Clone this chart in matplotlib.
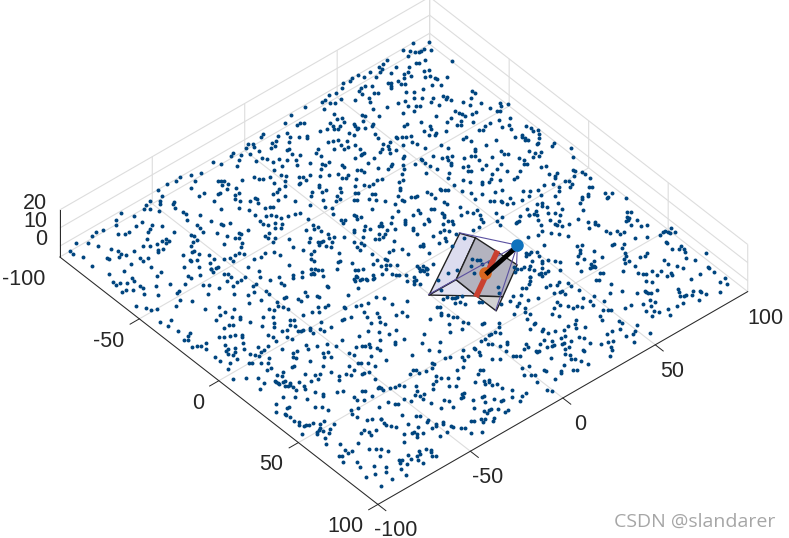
import matplotlib
matplotlib.use('Agg')
import numpy as np
import matplotlib.pyplot as plt
from matplotlib.ticker import NullFormatter
from mpl_toolkits.mplot3d.art3d import Poly3DCollection

plt.rcParams['font.family'] = ['Liberation Sans', 'DejaVu Sans']
plt.rcParams['axes.unicode_minus'] = False

x_ticks = [-100, -50, 0, 50, 100]
y_ticks = [-100, -50, 0, 50, 100]
z_ticks = [0, 10, 20]

# feature points on z=0, one list per region
pts_left = [(-98,8),(-97,6),(-93,12),(-91,7),(-89,5),(-84,10),(-96,1),(-97,-1),(-96,-3),(-94,0),(-91,0),(-92,-4),(-94,-7),(-97,-9),(-96,-11),(-92,-10),(-90,-13),(-98,-19),(-95,-17),
(-87,-5),(-87,-2),(-85,-1),(-82,0),(-82,3),(-79,5),(-78,1),(-78,-3),(-96,-27),(-98,-31),(-100,-35),(-99,-38),(-100,-42),(-94,-32),(-100,-47),(-92,-36),(-86,-34),(-86,-37),(-96,-48),(-97,-54),(-96,-57),(-95,-59),(-93,-57),(-94,-51),(-93,-52),(-90,-47),(-89,-48),(-87,-49),(-90,-55),
(-88,-25),(-87,-24),(-86,-23),(-85,-25),(-84,-23),(-82,-17),(-80,-12),(-78,-11),(-77,-10),(-76,-7),(-72,-8),(-74,-3),(-72,-2),(-70,-4),(-68,-6),(-68,-9),(-67,-11),(-67,-13),(-63,-10),(-63,-14),(-80,-22),(-82,-25),(-82,-29),(-82,-30),(-77,-23),(-77,-25),(-75,-27),(-73,-26),(-80,-34),(-70,-23),(-70,-20),(-69,-20),(-67,-21),(-74,-35),(-70,-29),(-66,-27),(-63,-21),(-62,-19),(-61,-18),(-59,-24),(-58,-22),(-56,-21),(-54,-20),(-53,-17),(-62,-27),(-58,-28),(-56,-28),(-54,-27),(-53,-24),(-51,-26),(-51,-22),(-49,-24),(-50,-32),(-50,-30),(-48,-32),(-46,-30),(-45,-32),(-42,-26),
(-57,-35),(-58,-39),(-57,-39),(-57,-42),(-56,-41),(-53,-42),(-51,-44),(-60,-44),(-57,-48),(-64,-46),(-67,-41),(-66,-41),(-65,-38),(-71,-43),(-73,-49),(-71,-49),(-68,-50),(-77,-44),(-83,-48),(-81,-48),(-78,-50),(-70,-55),(-69,-54),(-66,-55),(-66,-57),(-65,-59),(-62,-61),(-63,-65),(-62,-60),(-59,-60),(-56,-57),(-53,-57),(-50,-54),(-49,-52),(-47,-52),(-49,-49),(-49,-47),(-47,-46),(-42,-45),(-41,-42),(-42,-39),(-40,-36),(-37,-35),(-30,-36),(-58,-65),(-59,-65),(-57,-63),(-53,-65),(-57,-70),(-52,-60),(-49,-62),(-48,-60),(-48,-59),(-40,-50),(-35,-48),(-32,-50),(-36,-55),(-52,-72),(-50,-72),(-49,-68),(-49,-62),(-47,-63),(-43,-60),(-42,-59),(-40,-59),(-39,-62),(-36,-59),(-49,-76),(-44,-71),(-42,-69),(-38,-67),(-35,-62),(-36,-57),(-30,-56),(-30,-54),(-28,-48),(-27,-44),(-24,-46),(-22,-46),(-27,-58),(-24,-54),(-22,-54),(-47,-81),(-47,-82),(-38,-73),(-31,-65),(-27,-61),(-16,-50),
(-99,-68),(-97,-72),(-95,-74),(-94,-65),(-89,-65),(-89,-68),(-88,-73),(-88,-75),(-90,-77),(-96,-80),(-97,-83),(-96,-86),(-97,-94),(-94,-90),(-90,-88),(-95,-99),(-93,-99),(-89,-97),(-82,-98),(-85,-85),(-82,-84),(-80,-84),(-78,-83),(-78,-79),(-78,-74),(-76,-72),(-75,-69),(-75,-66),(-73,-66),(-75,-64),(-73,-64),(-76,-59),(-82,-60),(-85,-63),(-84,-65),(-83,-67),(-80,-70),(-71,-72),(-72,-71),(-71,-69),(-82,-90),(-81,-90),(-79,-86),(-73,-85),(-73,-80),(-71,-80),(-71,-77),(-66,-80),(-74,-96),(-71,-90),(-66,-90),(-64,-91),(-60,-82),(-61,-79),(-69,-98),(-67,-96),(-67,-98),(-65,-94),(-62,-97),(-62,-99),(-60,-95),(-60,-91),(-58,-91),(-55,-93),(-56,-86),(-51,-89),(-53,-81)]

pts_top = [(-100,91),(-96,96),(-99,85),(-97,87),(-95,88),(-94,89),(-94,90),(-94,92),(-92,94),(-95,84),(-81,96),(-90,84),(-89,85),(-89,88),(-99,76),(-98,73),(-98,71),(-96,71),(-93,76),(-95,69),(-98,66),(-94,66),(-92,72),(-90,80),(-88,78),(-88,76),(-85,77),(-86,74),(-84,83),(-83,85),(-81,81),(-80,83),(-78,84),(-77,84),(-75,88),(-100,61),(-97,62),(-100,58),(-99,56),(-100,53),(-98,51),(-97,47),(-93,59),(-91,61),(-93,57),(-92,55),(-90,55),(-89,50),(-93,46),(-93,43),(-98,44),(-97,41),(-97,39),(-94,41),(-93,37),(-99,32),(-99,24),(-97,19),(-93,22),(-93,24),(-92,25),(-84,27),(-83,30),(-85,33),(-83,33),(-88,38),(-85,37),(-84,39),(-82,38),(-81,32),(-81,35),(-80,33),(-75,35),(-78,40),(-77,40),(-75,39),(-80,46),(-79,47),(-77,44),(-75,40),(-73,42),(-73,36),(-73,46),(-72,45),(-68,43),(-65,42),(-77,57),(-80,52),(-75,51),(-86,55),(-84,54),(-87,59),(-86,60),(-88,67),(-87,68),(-86,67),(-85,66),(-86,71),(-84,71),(-83,72),(-77,72),(-79,69),(-76,76),(-75,80),(-73,83),(-74,69),(-72,72),(-75,65),(-76,62),(-72,64),(-68,64),(-70,67),(-69,68),(-69,75),(-68,73),(-67,79),(-66,80),(-65,79),(-63,80),(-64,74),(-57,77),(-55,77),(-60,69),(-55,73),(-54,70),(-50,72),(-57,63),(-61,62),(-70,60),(-64,57),(-64,55),(-55,62),(-52,62),(-51,61),(-50,66),(-53,59),(-56,59),(-57,53),(-59,50),(-58,51),(-61,48),(-60,48),(-54,51),(-52,52),(-48,53),(-55,47),(-55,43),(-60,44),(-59,42),(-61,41),(-59,39),(-58,37),(-57,41),(-55,40),(-50,43),(-45,59),(-42,60),(-38,56),(-37,58),(-42,52),(-39,54),(-36,55),(-33,54),(-34,55),(-44,47),(-43,47),(-41,47),(-38,47),(-35,48),(-36,43),(-30,50),(-28,48),(-49,42),(-46,39),(-44,38),(-43,43),(-49,36),(-49,35),(-48,33),(-51,30),(-56,29),(-57,33),(-62,27),(-62,31),(-62,32),(-62,30),(-68,32),(-65,32),(-72,31),(-69,29),(-69,27),(-72,28),(-75,29),(-72,24),(-76,27),(-77,25),(-76,19),(-75,17),(-85,21),(-84,20),(-87,18),(-89,15),(-87,13),(-84,9),(-91,9),(-89,7),(-92,16),(-81,9),(-78,11),(-77,8),(-74,6),(-72,11),(-72,17),(-68,14),(-66,12),(-67,15),(-67,17),(-62,20),(-61,20),(-56,18),(-56,23),(-55,24),(-53,24),(-63,9),(-61,12),(-59,15),(-55,16),(-56,15),(-52,19),(-66,6),(-68,2),(-67,3),(-65,3),(-65,0),(-65,-1),(-58,-9),(-56,-2),(-58,0),(-59,5),(-58,4),(-55,5),(-55,3),(-52,-6),(-51,0),(-49,6),(-52,10),(-50,9),(-47,4),(-47,6),(-43,10),(-42,11),(-39,15),(-37,17),(-34,19),(-30,21),(-46,13),(-45,14),(-49,16),(-47,19),(-45,20),(-45,22),(-46,25),(-45,27),(-42,35),(-39,33),(-39,31),(-36,29),(-35,28),(-33,25),(-30,25),(-29,25),(-29,29),(-28,30),(-28,31),(-27,36),(-25,36),(-25,41),(-24,41),(-23,42),(-22,43),(-23,47),(-22,36),(-18,37),(-16,37),(-41,18),(-40,19)]

pts_right = [(-62,90),(-60,90),(-59,83),(-59,87),(-56,84),(-54,88),(-54,78),(-52,78),(-51,83),(-51,81),(-49,94),(-46,96),(-47,93),(-46,90),(-45,91),(-49,89),(-41,87),(-39,91),(-36,88),(-37,85),(-42,83),(-42,80),(-41,78),(-42,77),(-47,78),(-51,75),(-49,73),(-34,87),(-31,93),(-29,94),(-27,93),(-26,95),(-24,94),(-28,88),(-22,92),(-16,95),(-15,93),(-9,98),(-4,95),(-29,85),(-27,87),(-26,88),(-25,87),(-24,88),(-20,90),(-20,89),(-33,78),(-42,70),(-42,68),(-39,70),(-33,73),(-34,68),(-33,67),(-26,75),(-24,75),(-23,76),(-19,84),(-16,85),(-15,87),(-14,85),(-32,64),(-31,65),(-26,70),(-28,65),(-33,61),(-18,78),(-16,79),(-15,83),(-13,78),(-14,77),(-20,70),(-24,65),(-29,57),(-28,59),(-26,57),(-25,58),(-23,62),(-19,67),(-15,69),(-12,73),(-8,81),(-7,83),(-3,81),(-1,84),(0,82),(1,81),(2,90),(3,90),(5,92),(7,92),(5,88),(10,92),(-23,52),(-20,53),(-17,57),(-16,56),(-18,63),(-13,63),(-16,61),(-10,70),(-10,68),(1,75),(3,78),(5,83),(6,84),(9,82),(8,84),(6,79),(8,77),(15,89),(14,88),(17,85),(17,82),(18,84),(18,81),(19,79),(21,91),(24,89),(24,90),(23,93),(29,95),(23,77),(-18,47),(-15,49),(-11,52),(-11,48),(-15,59),(-8,60),(-9,57),(-6,52),(-5,53),(-3,55),(-2,59),(-2,66),(0,68),(2,66),(2,71),(9,67),(10,66),(12,67),(9,74),(13,72),(5,70),(2,62),(1,58),(0,56),(-2,55),(1,49),(5,49),(5,46),(8,45),(8,65),(8,60),(11,58),(11,62),(13,61),(12,60),(9,55),(11,53),(11,51),(15,65),(17,71),(19,68),(22,65),(17,67),(26,72),(30,74),(33,72),(32,76),(33,75),(34,76),(39,76),(41,76),(36,90),(37,91),(38,88),(39,88),(40,87),(40,86),(42,90),(43,86),(46,89),(47,91),(44,81),(42,79),(44,79),(50,82),(53,86),(55,91),(55,93),(55,94),(55,97),(56,95),(57,95),(58,97),(60,90),(61,90),(65,89),(66,93),(67,91),(70,92),(73,90),(76,98),(76,92),(83,93),(84,93),(68,93),(77,85),(74,84),(87,93),(93,91),(93,94),(96,92),(98,87),(84,88),(84,83),(92,81),(93,81),(95,82),(90,79),(92,77),(90,74),(68,82),(71,82),(72,77),(73,74),(70,74),(70,71),(69,70),(73,68),(75,70),(76,77),(76,79),(77,79),(80,68),(80,65),(77,64),(79,64),(96,77),(85,75),(67,69),(60,80),(61,78),(60,76),(56,72),(57,70),(59,69),(59,71),(63,71),(54,73),(51,74),(50,76),(47,73),(47,72),(45,64),(50,64),(50,60),(50,58),(39,63),(38,61),(41,60),(42,59),(43,57),(46,58),(52,57),(52,58),(53,58),(57,57),(58,58),(51,52),(62,65),(71,57),(65,56),(69,52),(60,54),(59,53),(46,54),(52,56),(41,49),(45,46),(39,48),(37,46),(36,44),(37,43),(25,58),(28,60),(25,64),(26,67),(23,63),(22,63),(19,58),(22,56),(19,63),(23,53),(31,62),(29,51),(30,46),(28,42),(29,43),(33,45),(39,41),(42,42),(42,40),(41,39),(43,38),(41,38),(49,37),(49,35),(50,41),(51,39),(55,38),(53,43),(55,43),(59,44),(64,42),(66,46),(55,37),(40,34),(42,32),(43,31),(43,27),(44,28),(36,37),(29,41),(34,34),(33,33),(33,41)]

pts_lower_right = [(46,24),(52,28),(54,35),(57,38),(50,24),(49,20),(53,14),(55,18),(57,19),(59,16),(64,13),(63,16),(63,17),(68,16),(68,17),(71,17),(72,20),(59,32),(61,32),(61,29),(63,26),(66,27),(64,34),(66,35),(66,37),(68,38),(67,43),(70,42),(71,47),(75,43),(76,45),(77,46),(77,40),(79,39),(72,31),(74,29),(73,26),(74,23),(77,21),(76,28),(78,31),(87,26),(83,26),(81,25),(80,18),(81,21),(83,18),(77,19),(80,17),(76,15),(78,13),(78,14),(73,13),(74,10),(70,6),(72,5),(72,3),(76,6),(77,6),(77,11),(88,21),(89,21),(90,29),(91,32),(92,34),(94,31),(98,27),(96,30),(88,41),(84,44),(86,44),(87,38),(87,35),(91,48),(93,45),(94,43),(98,40),(93,40),(98,49),(80,51),(80,54),(83,58),(87,56),(86,60),(89,59),(85,63),(83,62),(91,60),(91,56),(95,62),(93,68),(87,74),(89,73),(90,75),(93,71),(78,64),(76,61),(92,64),(83,16),(85,14),(87,15),(89,14),(90,15),(93,16),(96,17),(90,9),(92,6),(93,5),(95,10),(96,11),(83,8),(94,1),(77,7),(87,1),(88,1),(81,-2),(80,-5),(84,-7),(86,-5),(87,-4),(91,-6),(93,-14),(93,-16),(91,-20),(95,-19),(88,-17),(97,-6),(99,-5),(72,-3),(73,-2),(74,-1),(64,1),(65,0),(68,-3),(64,-3),(61,-5),(60,-6),(57,-5),(57,-7),(56,-1),(56,-2),(56,1),(58,2),(53,6),(55,4),(49,1),(49,0),(45,-4),(43,-5),(46,-8),(40,-10),(39,-5),(38,-6),(36,-7),(34,-9),(33,-8),(29,-7),(30,-6),(32,0),(30,2),(33,2),(35,3),(38,8),(39,9),(45,14),(46,18),(44,21),(23,-30),(21,-31),(18,-29),(22,-23),(22,-20),(25,-20),(18,-14),(16,-20),(11,-20),(8,-22),(33,-14),(44,-13),(38,-22),(42,-26),(29,-29),(29,-33),(35,-30),(34,-34),(35,-35),(29,-38),(25,-35),(34,-42),(45,-34),(40,-44),(40,-50),(46,-20),(47,-27),(50,-24),(56,-23),(55,-25),(56,-16),(58,-12),(59,-12),(61,-12),(63,-13),(60,-17),(59,-19),(61,-20),(68,-11),(70,-8),(54,-31),(55,-31),(56,-33),(56,-36),(53,-39),(52,-40),(53,-42),(55,-39),(61,-35),(63,-37),(63,-34),(65,-32),(68,-29),(64,-26),(64,-23),(70,-19),(71,-21),(71,-18),(74,-25),(76,-22),(77,-20),(78,-21),(78,-23),(80,-21),(84,-19),(81,-19),(71,-33),(76,-33),(76,-34),(78,-35),(69,-35),(64,-39),(66,-41),(60,-45),(57,-49),(55,-50),(54,-54),(55,-52),(53,-57),(51,-57),(63,-47),(64,-49),(66,-46),(66,-48),(68,-48),(76,-41),(74,-42),(78,-36),(82,-33),(83,-29),(83,-28),(90,-24),(90,-25),(87,-26),(86,-36),(86,-30),(91,-31),(91,-32),(93,-29),(96,-26),(96,-28),(90,-34),(96,-34),(97,-35),(92,-34),(94,-37),(93,-38),(91,-42),(92,-41),(95,-39),(92,-48),(93,-47),(97,-47),(99,-43),(80,-42),(77,-46),(72,-47),(63,-54),(66,-53),(63,-59),(64,-58),(60,-60),(70,-61),(74,-57),(75,-56),(79,-55),(80,-56),(84,-51),(83,-54),(84,-55),(85,-52),(88,-50),(89,-50),(84,-57),(80,-61),(81,-65),(81,-64),(84,-62),(83,-64),(84,-65),(90,-58),(90,-54),(66,-69),(69,-70),(72,-69),(70,-70),(74,-68),(76,-63),(79,-68),(70,-75),(83,-71),(91,-70),(93,-71),(92,-67),(94,-66),(95,-67),(97,-68),(98,-67),(90,-75),(93,-76),(93,-73),(98,-74),(95,-74),(94,-79),(91,-79),(90,-80),(92,-81),(95,-83),(99,-84),(97,-90),(92,-89),(97,-96),(83,-84),(79,-83),(83,-80)]

pts_lower_left = [(-52,-100),(-48,-98),(-46,-97),(-45,-95),(-38,-99),(-36,-95),(-34,-98),(-29,-97),(-43,-84),(-41,-88),(-39,-81),(-32,-80),(-29,-75),(-25,-78),(-24,-81),(-25,-75),(-21,-75),(-24,-71),(-19,-72),(-18,-73),(-18,-82),(-18,-79),(-17,-78),(-14,-71),(-23,-64),(-21,-59),(-16,-51),(-12,-47),(-10,-47),(-13,-42),(-11,-43),(-8,-40),(-7,-40),(-10,-33),(-3,-44),(-1,-42),(-1,-40),(0,-30),(-4,-20),(-1,-16),(4,-36),(5,-36),(8,-30),(9,-27),(7,-32),(11,-38),(12,-32),(16,-28),(15,-33),(10,-41),(10,-42),(10,-48),(5,-49),(0,-46),(-3,-52),(-2,-48),(-16,-55),(-14,-56),(-13,-59),(-15,-60),(-12,-55),(-10,-54),(-10,-62),(-13,-65),(-9,-69),(-7,-64),(-5,-66),(-3,-57),(-4,-58),(-2,-60),(0,-59),(-1,-65),(0,-63),(3,-60),(4,-59),(4,-58),(5,-55),(6,-56),(8,-56),(8,-52),(10,-52),(3,-66),(5,-65),(-1,-70),(2,-71),(-3,-71),(-10,-79),(-9,-80),(-6,-82),(-3,-84),(-13,-83),(-12,-81),(-14,-85),(-10,-88),(-15,-87),(-16,-93),(-23,-99),(-24,-96),(-25,-94),(-22,-98),(-18,-99),(-17,-97),(-16,-96),(-13,-96),(-7,-96),(-4,-96),(-7,-90),(-7,-89),(-5,-91),(-6,-86),(-4,-88),(-3,-90),(0,-90),(0,-94),(2,-97),(8,-99),(11,-95),(14,-91),(5,-88),(6,-87),(3,-83),(4,-82),(0,-79),(1,-84),(3,-80),(3,-78),(2,-75),(7,-72),(14,-72),(12,-70),(12,-68),(15,-71),(14,-64),(12,-63),(20,-68),(15,-60),(22,-62),(20,-61),(17,-56),(21,-59),(24,-60),(20,-54),(19,-50),(27,-53),(29,-52),(26,-48),(27,-46),(28,-43),(28,-45),(30,-44),(32,-42),(22,-43),(22,-38),(19,-34),(35,-53),(34,-47),(37,-51),(34,-54),(26,-66),(28,-72),(29,-70),(31,-73),(31,-66),(37,-67),(35,-65),(36,-62),(38,-61),(40,-57),(33,-58),(36,-58),(40,-56),(41,-54),(46,-55),(42,-72),(43,-70),(49,-69),(48,-64),(49,-63),(51,-69),(53,-67),(53,-63),(51,-58),(52,-57),(55,-72),(59,-76),(54,-75),(56,-76),(63,-74),(64,-72),(66,-69),(60,-65),(69,-78),(71,-79),(67,-81),(67,-79),(52,-88),(52,-90),(55,-94),(56,-92),(57,-89),(56,-86),(59,-91),(60,-94),(71,-86),(67,-92),(73,-91),(71,-93),(73,-93),(73,-96),(72,-97),(76,-98),(80,-94),(83,-95),(77,-85),(80,-81),(86,-90),(89,-97),(90,-93),(90,-87),(63,-96),(55,-93),(56,-95),(52,-100),(54,-92),(49,-96),(50,-94),(50,-92),(47,-97),(46,-96),(44,-97),(49,-95),(41,-97),(38,-97),(39,-97),(36,-93),(36,-94),(35,-99),(31,-96),(30,-91),(33,-87),(36,-79),(39,-77),(40,-78),(37,-84),(45,-83),(43,-85),(48,-82),(20,-95),(18,-91),(20,-87),(21,-87),(22,-87),(23,-87),(18,-84),(20,-83),(23,-85),(26,-85),(30,-84),(32,-81),(25,-86),(25,-83),(28,-84),(27,-80),(30,-80),(30,-76),(26,-84),(23,-84),(18,-81),(18,-75),(18,-76),(25,-75),(10,-82),(13,-85),(8,-84),(13,-83),(8,-80)]

pts_center = [(-51,-12),(-52,-14),(-47,-2),(-45,0),(-42,-2),(-37,-2),(-35,-3),(-36,-1),(-36,4),(-35,4),(-33,3),(-33,5),(-29,-2),(-28,-3),(-28,3),(-26,1),(-25,3),(-23,-2),(-34,12),(-25,9),(-23,8),(-20,8),(-25,15),(-26,19),(-22,12),(-18,11),(-18,2),(-19,1),(-20,4),(-18,4),(-23,-7),(-21,-5),(-20,-8),(-18,-8),(-19,-5),(-28,-8),(-31,-11),(-34,-12),(-32,-13),(-29,-14),(-27,-16),(-32,-16),(-32,-17),(-33,-18),(-31,-19),(-29,-17),(-37,-19),(-35,-21),(-37,-28),(-33,-26),(-29,-25),(-30,-23),(-27,-27),(-22,-16),(-18,-19),(-18,-20),(-15,-23),(-14,-16),(-9,-7),(-7,-4),(-9,0),(-9,2),(-7,5),(-3,5),(-5,-8),(-3,-5),(-4,-6),(-6,-4),(-13,-6),(-8,-10),(-10,-18),(-7,-20),(-9,-17),(-8,-15),(-6,-20),(-3,-18),(-6,-22),(-5,-22),(-3,-14),(-1,-11),(-2,-8),(2,-8),(3,-7),(4,-6),(-1,-3),(9,-6),(12,-5),(5,3),(6,3),(8,2),(-21,-30),(-20,-29),(-19,-28),(-19,-32),(-16,-30),(-22,-31),(-20,-33),(-23,-35),(-21,-37),(-24,-39),(-23,-40),(-9,-33),
(-18,30),(-17,31),(-14,25),(-5,20),(0,19),(-1,23),(-5,24),(1,22),(-7,32),(-8,28),(-5,26),(-5,31),(-3,13),(2,12),(9,5),(6,5),(16,23),
(5,22),(18,24),(19,25),(19,20),(23,18),(21,24),(22,27),(17,14),(17,4),(16,10),(27,-2),(27,0),(29,1),(30,3),(31,5),(22,1),(14,-3),(8,5),(8,3),(8,9),(6,-4),(11,-4),(36,20),(39,18),(31,33),(34,31),(35,38),(38,38),(40,34),(34,36),(29,44),(24,41),(21,49),(11,52),(16,59),(11,58),(50,18),(53,20)]

pts_extra = [(-46,-12),(-42,-13),(-40,-12),(-40,-14),(-37,-13),(-42,-17),(-25,-27),(-20,-32),(-2,-18),(-4,-19),(-1,-15),(-1,-24),(9,-2),(11,-3),(-19,6),(-24,7),(-19,17),(-20,18),(-20,22),(-21,26),(-19,25),(-18,16),(-14,17),(-13,16),(-10,16),(-13,22),(-4,12),(-3,13),(-4,14),(-13,6),
(-12,32),(-11,31),(-8,31),(-13,32),(-13,25),(-7,37),(-11,40),(-7,40),(-5,42),(-5,44),(-2,43),(0,42),(2,41),(3,38),(3,35),(0,28),(4,29),(-3,27),(9,3),(11,3),(9,5)]

# frustum and box corners
apex = (21.9, 42.6, 0)
a = (0.6, 29.5, 0)
b = (6.9, 32.6, 0)
c = (21.2, 9.8, 0)
d = (21.1, -4.75, 0)
e = (34.2, 9.65, 0)
f = (30.6, 34.7, 0)
g = (41.6, 17.5, 0)
h = (46.4, 9.8, 0)
black_line = [(23, 39.4), (26.7, 22.4)]
red_line = [(34, 10.4), (20, 32.9)]
center = (26.3, 21.3)

all_pts = np.array(pts_left + pts_top + pts_right + pts_lower_right + pts_lower_left + pts_center + pts_extra, dtype=float)

fig = plt.figure(figsize=(7.89, 5.38), dpi=100)
ax = fig.add_axes([2 / 789, 11 / 538, 1, 1], projection='3d', proj_type='ortho', computed_zorder=False)
ax.view_init(elev=42, azim=-40.7)
ax.set_xlim(-100, 100)
ax.set_ylim(-100, 100)
ax.set_zlim(-6, 20)
ax.set_box_aspect((200, 200, 26), zoom=1.25)

ax.set_xticks(x_ticks)
ax.set_yticks(y_ticks)
ax.set_zticks(z_ticks)
ax.tick_params(labelsize=15.5, colors='#262626')
ax.yaxis.set_tick_params(pad=3)
ax.xaxis.set_major_formatter(NullFormatter())
ax.zaxis.set_major_formatter(NullFormatter())
ax.xaxis.set_tick_params(labelbottom=False)
ax.zaxis.set_tick_params(labelbottom=False)
ax.zaxis.set_ticks_position('lower')
for axis in (ax.xaxis, ax.yaxis, ax.zaxis):
    axis.pane.set_visible(False)
    axis.line.set_color('#262626')
    axis.line.set_linewidth(0.7)
    axis._axinfo['grid']['color'] = '#dddddd'
    axis._axinfo['grid']['linewidth'] = 0.8
    axis._axinfo['tick']['linewidth'] = {True: 0, False: 0}

# tick marks and the labels that mplot3d would put in the wrong place
tick_col = '#262626'
for v in x_ticks:
    ax.plot([v, v], [-100, -105], [-6, -6], color=tick_col, lw=0.7, zorder=1)
    ax.text(v, -108, -13.6, str(v), ha='right', va='center', fontsize=15.5, color=tick_col)
for v in y_ticks:
    ax.plot([100, 105], [v, v], [-6, -6], color=tick_col, lw=0.7, zorder=1)
for v in z_ticks:
    ax.plot([-100, -105], [-100, -100], [v, v], color=tick_col, lw=0.7, zorder=1)
    ax.text(-100, -107, v + 7.6, str(v), ha='right', va='center', fontsize=15.5, color=tick_col)

faces = [
    ([a, b, c, d], '#dcdcef'),
    ([c, e, d], '#e3e3f2'),
    ([b, f, g, e, c], '#b3b3bf'),
    ([e, g, h], '#d2d2d2'),
]
for verts, col in faces:
    ax.add_collection3d(Poly3DCollection([verts], facecolors=col, edgecolors='#222222', linewidths=1, zorder=2))

ax.scatter(all_pts[:, 0], all_pts[:, 1], 0, s=8, c='#00457f', depthshade=False, zorder=3, linewidths=0, clip_on=False)

for corner in (a, d, h, f):
    ax.plot([apex[0], corner[0]], [apex[1], corner[1]], [0, 0], color='#5a50a0', lw=0.8, zorder=4)
ax.plot(*zip(*red_line), [0, 0], color='#c9402f', lw=4, zorder=5)
ax.plot(*center, 0, 'o', color='#d9661f', ms=8, zorder=6)
ax.plot(*zip(*black_line), [0, 0], color='black', lw=3.5, zorder=7)
ax.plot(apex[0], apex[1], 0, 'o', color='#0f72bd', ms=8, zorder=8)

fig.text(0.778, 0.02, 'CSDN @slandarer', color='#a6a6a6', fontsize=14, family=['Open Sans', 'DejaVu Sans'])
fig.savefig('out.png', dpi=100)
